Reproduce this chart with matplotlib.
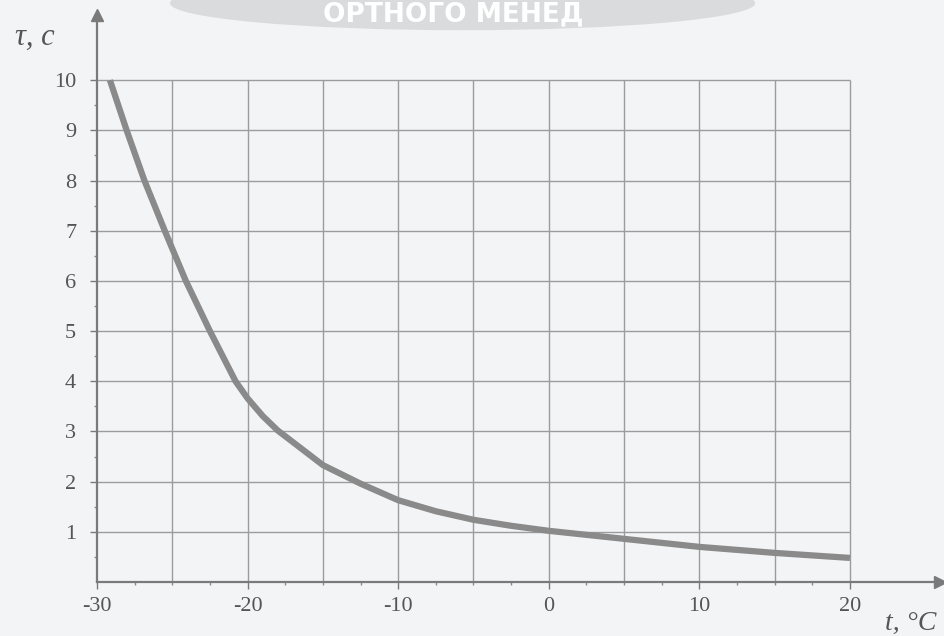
import matplotlib.pyplot as plt
import numpy as np
from matplotlib.patches import Ellipse

# temperature, deg C  vs  time tau, s
t_vals = [-29.14, -28.03, -26.85, -25.5, -24.1, -22.5, -20.8, -20.0,
          -19.0, -18.0, -15.0, -12.5, -10.0, -7.5, -5.0, -2.5, 0.0,
          2.5, 5.0, 7.5, 10.0, 12.5, 15.0, 17.5, 20.0]
tau_vals = [10.0, 9.0, 8.0, 7.0, 6.0, 5.0, 4.0, 3.66,
            3.31, 3.02, 2.33, 1.96, 1.63, 1.41, 1.24, 1.12, 1.02,
            0.94, 0.86, 0.78, 0.70, 0.64, 0.58, 0.53, 0.48]

x_ticks = [-30, -20, -10, 0, 10, 20]
x_labels = ['-30', '-20', '-10', '0', '10', '20']
y_ticks = [1, 2, 3, 4, 5, 6, 7, 8, 9, 10]
x_grid = [-25, -20, -15, -10, -5, 0, 5, 10, 15, 20]
y_grid = [1, 2, 3, 4, 5, 6, 7, 8, 9, 10]

plt.rcParams['font.family'] = ['Liberation Serif', 'DejaVu Serif']

fig = plt.figure(figsize=(9.44, 6.36), dpi=100)
fig.patch.set_facecolor('#f3f4f5')

# watermark band at the top
band = Ellipse((0.49, 0.995), 0.62, 0.085, transform=fig.transFigure,
               facecolor='#dadbdc', edgecolor='none', zorder=0)
fig.patches.append(band)
fig.text(0.48, 0.978, 'ОРТНОГО МЕНЕД', color='white', fontsize=19,
         family=['DejaVu Sans'], fontweight='bold', ha='center', va='center')

ax = fig.add_axes([97/944, 54/636, 843/944, 567/636])
ax.set_facecolor('none')
ax.set_xlim(-30, 25.98)
ax.set_ylim(0, 11.3)

gc = '#9c9c9c'
ax.vlines(x_grid, 0, 10, color=gc, lw=1.0, zorder=1)
ax.hlines(y_grid, -30, 20, color=gc, lw=1.0, zorder=1)

ax.plot(t_vals, tau_vals, color='#8a8a8a', lw=4.5, solid_capstyle='butt',
        solid_joinstyle='round', zorder=3)

for s in ['top', 'right']:
    ax.spines[s].set_visible(False)
for s in ['left', 'bottom']:
    ax.spines[s].set_color('#7a7a7a')
    ax.spines[s].set_linewidth(1.6)

# axis arrows
ax.plot(1, 0, '>', color='#7a7a7a', ms=9, transform=ax.transAxes, clip_on=False)
ax.plot(0, 1, '^', color='#7a7a7a', ms=9, transform=ax.transAxes, clip_on=False)

ax.set_xticks(x_ticks)
ax.set_xticklabels(x_labels)
ax.set_yticks(y_ticks)
ax.set_xticks(np.arange(-27.5, 20, 2.5), minor=True)
ax.set_yticks(np.arange(0.5, 10, 0.5), minor=True)
ax.tick_params(axis='both', colors='#7a7a7a', labelcolor='#555555',
               labelsize=16, width=1)
ax.tick_params(axis='x', length=5, pad=6)
ax.tick_params(axis='y', length=5, pad=10)
ax.tick_params(which='minor', length=2.5, width=1, colors='#8a8a8a')

fig.text(15/944, 1 - 45/636, 'τ, с', fontsize=22, style='italic',
         color='#555555', va='baseline', ha='left')
fig.text(885/944, 1 - 630/636, 't, °C', fontsize=20, style='italic',
         color='#555555', va='baseline', ha='left')

fig.savefig('out.png', dpi=100, facecolor=fig.get_facecolor())
